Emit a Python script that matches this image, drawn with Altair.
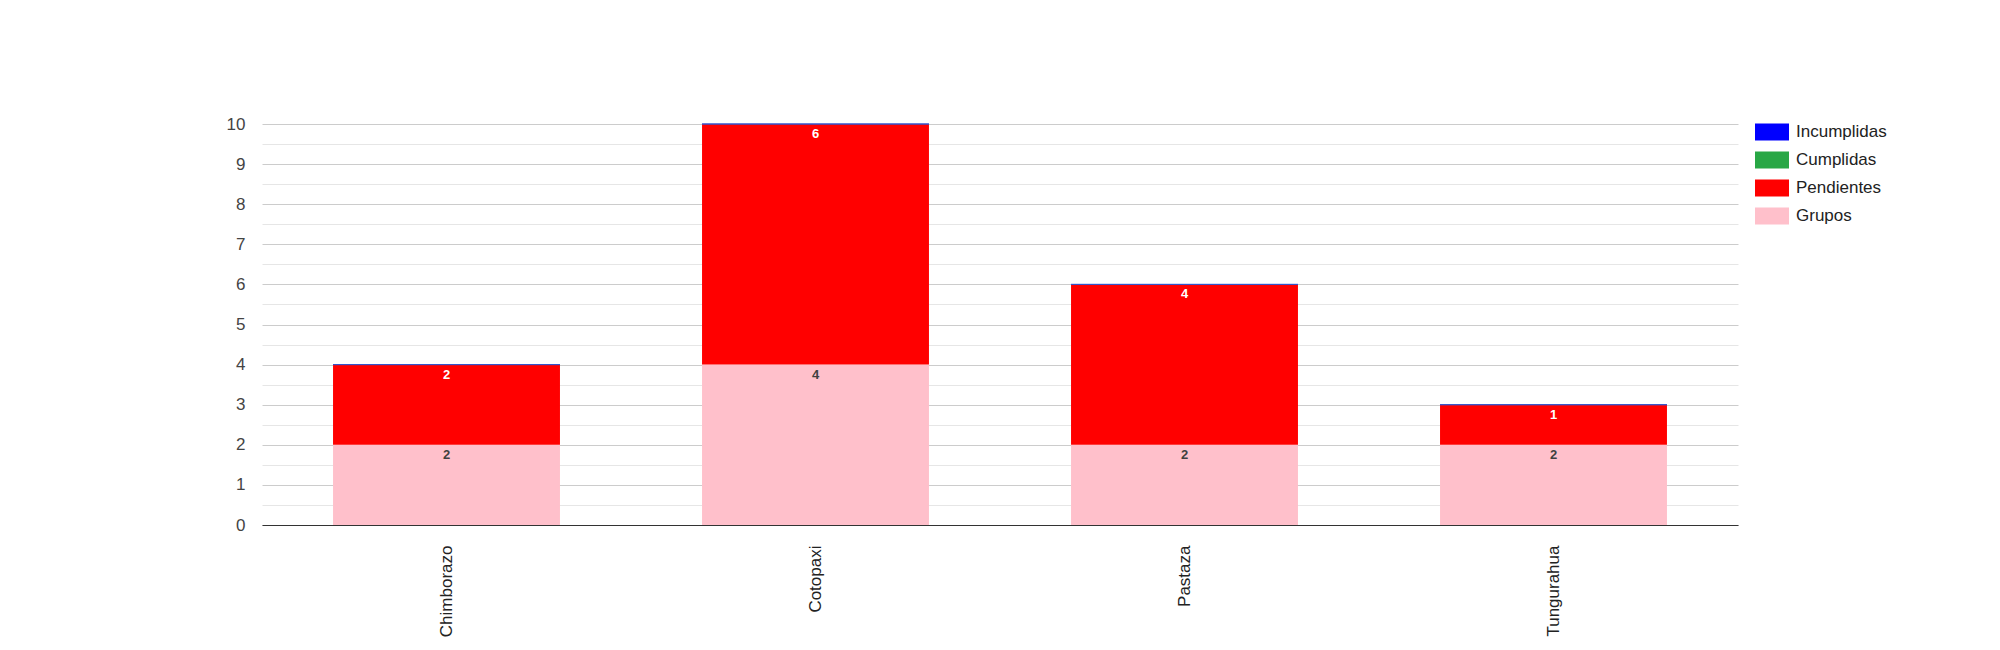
import altair as alt
import pandas as pd

regions = ["Chimborazo", "Cotopaxi", "Pastaza", "Tungurahua"]
grupos = [2, 4, 2, 2]
pendientes = [2, 6, 4, 1]
cumplidas = [0, 0, 0, 0]
incumplidas = [0, 0, 0, 0]

series = ["Grupos", "Pendientes", "Cumplidas", "Incumplidas"]
series_values = [grupos, pendientes, cumplidas, incumplidas]
legend_order = ["Incumplidas", "Cumplidas", "Pendientes", "Grupos"]
colors = ["#0000ff", "#28a745", "#ff0000", "#ffc0cb"]
major_ticks = list(range(0, 11))
minor_ticks = [i + 0.5 for i in range(0, 10)]

rows = []
for k, (name, vals) in enumerate(zip(series, series_values)):
    for r, v in zip(regions, vals):
        rows.append({"region": r, "serie": name, "value": v, "order": k})
df = pd.DataFrame(rows)

FONT = "Liberation Sans"

base = alt.Chart(df).transform_stack(
    stack="value", groupby=["region"], as_=["start", "end"],
    sort=[alt.SortField("order", order="ascending")]
)

yscale = alt.Scale(domain=[0, 10], nice=False)

x_enc = alt.X(
    "region:N", title=None, sort=regions,
    scale=alt.Scale(paddingInner=0.385, paddingOuter=0.1925),
    axis=alt.Axis(labelAngle=270, labelFontSize=17, labelColor="#222222",
                  labelFont=FONT, ticks=False, domainColor="#333333",
                  labelPadding=20, grid=False),
)
y_enc = alt.Y(
    "start:Q", title=None, scale=yscale,
    axis=alt.Axis(values=major_ticks, labelFontSize=17, labelColor="#444444",
                  labelFont=FONT, ticks=False, domain=False, labelPadding=17,
                  grid=True, gridColor="#cccccc"),
)

bars = base.mark_bar(strokeWidth=0).encode(
    x=x_enc,
    y=y_enc,
    y2="end:Q",
    color=alt.Color(
        "serie:N", title=None,
        scale=alt.Scale(domain=legend_order, range=colors),
        legend=alt.Legend(
            orient="none", legendX=1493, legendY=-9, padding=0,
            labelFontSize=17, labelColor="#222222", labelFont=FONT,
            symbolType="M-1,-0.5H1V0.5H-1Z", symbolSize=1156,
            symbolStrokeWidth=0, symbolOpacity=1, labelOffset=7, rowPadding=2,
        ),
    ),
)

zero_lines = base.transform_filter("datum.serie === 'Incumplidas'").mark_bar(
    stroke="#3355cc", strokeWidth=1, fill="#0000ff"
).encode(
    x=alt.X("region:N", sort=regions),
    y=alt.Y("start:Q", scale=yscale, title=None,
            axis=alt.Axis(orient="right", values=minor_ticks, labels=False, ticks=False,
                          domain=False, grid=True, gridColor="#e6e6e6")),
    y2="end:Q",
)

labels = base.transform_filter("datum.value > 0").mark_text(
    baseline="top", dy=4, fontSize=13, fontWeight="bold", font=FONT
).encode(
    x=alt.X("region:N", sort=regions),
    y=alt.Y("end:Q", scale=yscale, axis=None),
    text="value:Q",
    color=alt.condition("datum.serie === 'Grupos'", alt.value("#404040"), alt.value("#ffffff")),
)

chart = alt.layer(bars, zero_lines, labels).resolve_axis(y="independent").resolve_scale(
    y="shared"
).properties(
    width=1476, height=401,
    padding={"left": 254, "top": 116, "right": 254, "bottom": 117},
    autosize=alt.AutoSizeParams(type="none"),
).configure_view(stroke=None)

chart.save("out.html", embed_options={"renderer": "svg", "actions": False})
